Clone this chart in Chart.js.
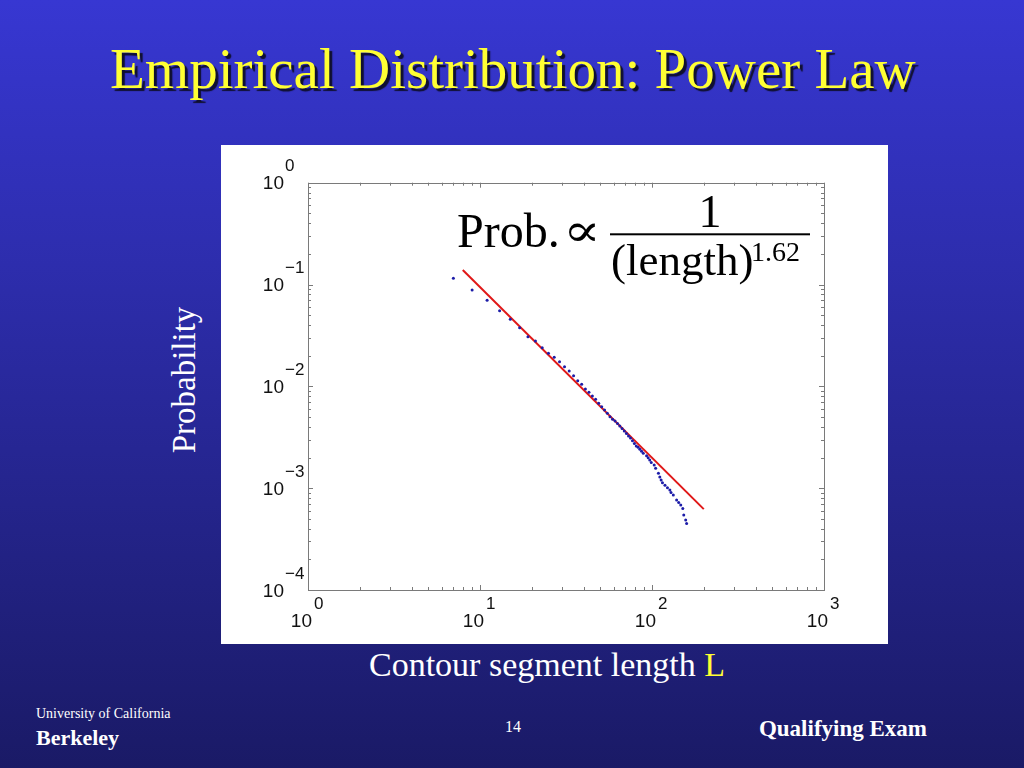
<!DOCTYPE html>
<html><head><meta charset="utf-8">
<script src="https://cdn.jsdelivr.net/npm/chart.js@4.4.0/dist/chart.umd.min.js"></script>
<style>
html,body{margin:0;padding:0;}
body{width:1024px;height:768px;overflow:hidden;position:relative;background:linear-gradient(#3737d2,#1a1a66);font-family:"Liberation Serif","Times New Roman",serif;}
.t{position:absolute;white-space:nowrap;line-height:1;}
#title{left:110px;top:39.5px;font-size:57px;color:#ffff33;text-shadow:3px 3px 1px #101030;}
#ylab{left:184px;top:380px;font-size:33px;color:#fff;transform:translate(-50%,-50%) rotate(-90deg);}
#xlab{left:369px;top:648px;font-size:34px;color:#fff;}
#xlab span{color:#ffff33;}
#uc{left:36px;top:706.5px;font-size:14px;color:#fff;}
#bk{left:36px;top:726.5px;font-size:22px;font-weight:bold;color:#fff;}
#pg{left:505px;top:718.5px;font-size:16px;color:#fff;}
#qe{right:97px;top:716.5px;font-size:23px;font-weight:bold;color:#fff;}
#panel{position:absolute;left:221px;top:145px;width:667px;height:499px;background:#fff;}
</style></head>
<body>
<div class="t" id="title">Empirical Distribution: Power Law</div>
<div class="t" id="ylab">Probability</div>
<div id="panel"><canvas id="c" width="667" height="499"></canvas></div>
<div class="t" id="xlab">Contour segment length <span>L</span></div>
<div class="t" id="uc">University of California</div>
<div class="t" id="bk">Berkeley</div>
<div class="t" id="pg">14</div>
<div class="t" id="qe">Qualifying Exam</div>
<script>
// Data
const lengths = [7,9,11,13,15,17,19,21,23,25,27,29,31,33,35,37,39,41,43,45,47,49,51,53,55,57,59,
  61,63,65,67,69,71,73,75,77,79,81,83,85,87,89,93,95,97,99,103,105,109,111,113,115,119,123,127,129,133,139,143,147,151,153,157,159];
const probs = [0.1150,0.0883,0.0700,0.0553,0.0455,0.0376,0.0307,0.0279,0.0239,0.0211,0.0193,0.01744,0.01558,0.01414,0.01271,0.01135,0.01046,0.00941,0.00873,0.00803,0.00745,0.00681,0.00630,0.00585,0.00543,0.00503,0.00474,
  0.00456,0.00431,0.00407,0.00385,0.00364,0.00344,0.00325,0.00311,0.00293,0.00275,0.00259,0.00252,0.00241,0.00231,0.00220,
  0.00208,0.00199,0.00189,0.00179,0.00169,0.00157,0.00140,0.00129,0.00120,0.00113,0.00107,0.00101,0.000958,0.000909,0.000855,0.000764,0.000725,0.000682,0.000633,0.000544,0.000486,0.000451];
const fitX = [7.94, 200];
const fitY = [0.1388, 0.000623];
const xTickValues = [1,10,100,1000];
const xTickExps = ['0','1','2','3'];
const yTickValues = [1,0.1,0.01,0.001,0.0001];
const yTickExps = ['0','\u22121','\u22122','\u22123','\u22124'];
const minorMult = [2,3,4,5,6,7,8,9];

const framePlugin = {
  id:'frame',
  afterDraw(chart){
    const ctx = chart.ctx, a = chart.chartArea, xs = chart.scales.x, ys = chart.scales.y;
    ctx.save();
    ctx.strokeStyle = '#7a7a7a'; ctx.lineWidth = 1;
    ctx.strokeRect(Math.round(a.left)+0.5, Math.round(a.top)+0.5, Math.round(a.right-a.left), Math.round(a.bottom-a.top));
    const tick = (v, len, isX) => {
      ctx.beginPath();
      if (isX) {
        const p = Math.round(xs.getPixelForValue(v))+0.5;
        ctx.moveTo(p, a.bottom); ctx.lineTo(p, a.bottom-len);
        ctx.moveTo(p, a.top); ctx.lineTo(p, a.top+len);
      } else {
        const p = Math.round(ys.getPixelForValue(v))+0.5;
        ctx.moveTo(a.left, p); ctx.lineTo(a.left+len, p);
        ctx.moveTo(a.right, p); ctx.lineTo(a.right-len, p);
      }
      ctx.stroke();
    };
    xTickValues.forEach((v,i)=>{ tick(v,5,true); if(i<xTickValues.length-1) minorMult.forEach(m=>tick(v*m,3,true)); });
    yTickValues.forEach((v,i)=>{ tick(v,5,false); if(i<yTickValues.length-1) minorMult.forEach(m=>tick(v/10*m,3,false)); });
    // tick labels
    ctx.fillStyle = '#111';
    const big = '19px "Liberation Sans", Arial, sans-serif';
    const sup = '17px "Liberation Sans", Arial, sans-serif';
    xTickValues.forEach((v,i)=>{
      const p = xs.getPixelForValue(v);
      ctx.font = big;
      ctx.textAlign = 'right'; ctx.textBaseline = 'alphabetic';
      ctx.fillText('10', p+4, a.bottom+37);
      ctx.font = sup;
      ctx.textAlign = 'left';
      ctx.fillText(xTickExps[i], p+6, a.bottom+19);
    });
    yTickValues.forEach((v,i)=>{
      const p = ys.getPixelForValue(v);
      ctx.font = big;
      ctx.textAlign = 'right';
      ctx.fillText('10', a.left-24, p+6.5);
      ctx.font = sup;
      ctx.textAlign = 'left';
      ctx.fillText(yTickExps[i], a.left-23, p-11.5);
    });
    // formula
    ctx.fillStyle = '#000';
    ctx.font = '48px "Liberation Serif", "Times New Roman", serif';
    ctx.textAlign = 'left';
    ctx.fillText('Prob.', 236, 101.7);
    ctx.save();
    ctx.translate(361, 100.5);
    ctx.scale(1.4, 1.15);
    ctx.font = '40px "DejaVu Serif", "Liberation Serif", serif';
    ctx.textAlign = 'center';
    ctx.fillText('\u221D', 0, 0);
    ctx.restore();
    ctx.textAlign = 'center';
    ctx.font = '46px "Liberation Serif", "Times New Roman", serif';
    ctx.fillText('1', 489, 81.7);
    ctx.fillRect(389, 88.3, 200, 2);
    ctx.textAlign = 'left';
    ctx.font = '45px "Liberation Serif", "Times New Roman", serif';
    ctx.fillText('(length)', 390, 130);
    ctx.font = '28px "Liberation Serif", "Times New Roman", serif';
    ctx.fillText('1.62', 530, 116);
    ctx.restore();
  }
};

new Chart(document.getElementById('c'), {
  type:'scatter',
  data:{datasets:[
    {label:'data', data: lengths.map((l,i)=>({x:l, y:probs[i]})), pointRadius:1.5, pointBackgroundColor:'#1c1ca8', pointBorderWidth:0, showLine:false},
    {label:'fit', data: fitX.map((x,i)=>({x:x, y:fitY[i]})), showLine:true, borderColor:'#e01818', borderWidth:2, pointRadius:0}
  ]},
  options:{
    responsive:false, animation:false, devicePixelRatio:1,
    layout:{padding:{left:87, right:64, top:37.7, bottom:54}},
    plugins:{legend:{display:false}, tooltip:{enabled:false}},
    scales:{
      x:{type:'logarithmic', min:1, max:1000, ticks:{display:false}, grid:{display:false, drawTicks:false}, border:{display:false}},
      y:{type:'logarithmic', min:0.0001, max:1, ticks:{display:false}, grid:{display:false, drawTicks:false}, border:{display:false}}
    }
  },
  plugins:[framePlugin]
});
</script>
</body></html>
